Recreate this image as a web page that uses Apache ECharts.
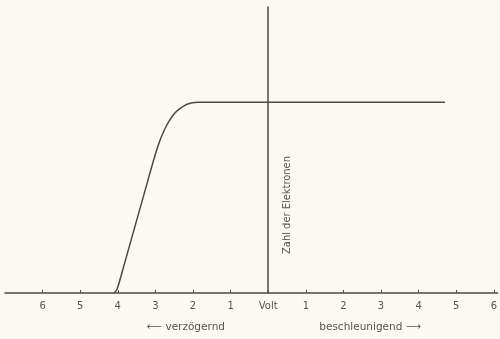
<!DOCTYPE html>
<html><head><meta charset="utf-8">
<script src="https://cdn.jsdelivr.net/npm/echarts@6/dist/echarts.min.js"></script>
<style>html,body{margin:0;padding:0;background:#fbf9f1}#c{width:500px;height:339px}</style>
</head><body><div id="c"></div>
<script>
// Volt values (negative = verzögernd, positive = beschleunigend)
const volts = [-4.1, -4.02, -3.9, -3.6, -3.3, -2.95, -2.75, -2.5, -2.25, -2.05, -1.85, 0, 2, 4.7];
// Zahl der Elektronen (relative, plateau = 100)
const electrons = [0, 2, 10, 31, 52, 76, 86, 94, 98, 99.6, 100, 100, 100, 100];
const tickValues = [-6, -5, -4, -3, -2, -1, 0, 1, 2, 3, 4, 5, 6];
const tickLabel = v => v === 0 ? 'Volt' : String(Math.abs(v));

const chart = echarts.init(document.getElementById('c'));
const ink = '#4a4a4a';
chart.setOption({
  backgroundColor: '#fbf9f1',
  animation: false,
  grid: {left: 5, right: 0, top: 7, bottom: 46},
  xAxis: {
    type: 'value', min: -7, max: 6.1, interval: 1,
    splitLine: {show: false},
    axisLine: {onZero: true, lineStyle: {color: ink, width: 1.5}},
    axisTick: {inside: true, length: 3, customValues: tickValues, lineStyle: {color: ink}},
    axisLabel: {customValues: tickValues, formatter: tickLabel, color: '#555', fontSize: 10, margin: 8, fontFamily: 'DejaVu Sans'}
  },
  yAxis: {
    type: 'value', min: 0, max: 150,
    splitLine: {show: false},
    axisLine: {show: true, onZero: true, lineStyle: {color: ink, width: 1.5}},
    axisTick: {show: false},
    axisLabel: {show: false}
  },
  series: [{
    type: 'line', data: volts.map((v, i) => [v, electrons[i]]),
    smooth: 0.3, showSymbol: false,
    lineStyle: {color: ink, width: 1.5}
  }],
  graphic: [
    {type: 'text', x: 287, y: 205, rotation: Math.PI / 2,
     style: {text: 'Zahl der Elektronen', fill: '#555', fontSize: 11, fontFamily: 'DejaVu Sans Condensed', align: 'center', verticalAlign: 'middle'}},
    {type: 'text', x: 186, y: 327,
     style: {text: '⟵ verzögernd', fill: '#555', fontSize: 10.5, fontFamily: 'DejaVu Sans', align: 'center', verticalAlign: 'middle'}},
    {type: 'text', x: 370, y: 327,
     style: {text: 'beschleunigend ⟶', fill: '#555', fontSize: 10.5, fontFamily: 'DejaVu Sans', align: 'center', verticalAlign: 'middle'}}
  ]
});
</script></body></html>
